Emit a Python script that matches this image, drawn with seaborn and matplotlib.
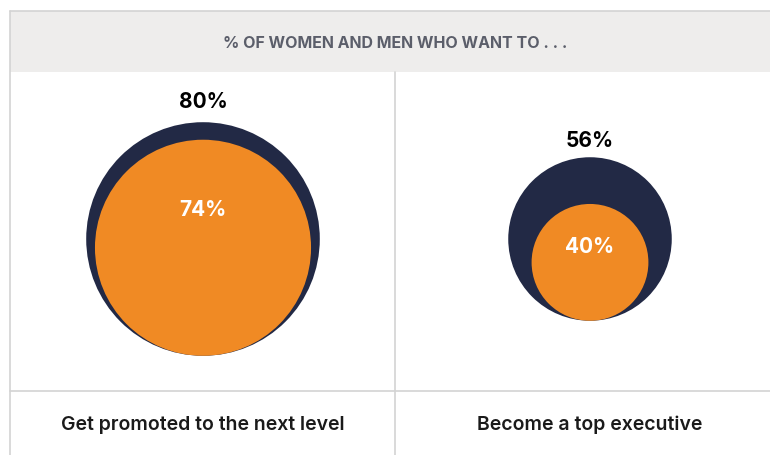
import matplotlib
matplotlib.use("Agg")
import matplotlib.pyplot as plt
from matplotlib.patches import Circle, Rectangle
import seaborn as sns

# data
categories = ["Get promoted to the next level", "Become a top executive"]
men_pct = [80, 56]
women_pct = [74, 40]
header = "% OF WOMEN AND MEN WHO WANT TO . . ."

NAVY = "#222945"
ORANGE = "#F08A24"
BAND = "#EEEDEC"
RULE = "#D3D3D3"

sns.set_theme(style="white")
plt.rcParams["font.family"] = ["Inter", "DejaVu Sans"]

fig = plt.figure(figsize=(7.7, 4.56), dpi=100)
ax = fig.add_axes([0, 0, 1, 1])
ax.set_xlim(0, 770)
ax.set_ylim(456, 0)
ax.axis("off")

# header band and grid lines
ax.add_patch(Rectangle((10, 12), 770, 61, facecolor=BAND, edgecolor="none"))
ax.plot([10, 770], [12, 12], color=RULE, lw=1.2)
ax.plot([10, 10], [12, 456], color=RULE, lw=1.2)
ax.plot([395, 395], [73, 456], color=RULE, lw=1.2)
ax.plot([10, 770], [392, 392], color=RULE, lw=1.2)
ax.text(395, 43, header, ha="center", va="center", fontsize=11.5,
        fontweight="bold", color="#5B5E6A")

# circles: radius proportional to the value, women bottom-aligned inside men
scale = 1.46
centers_x = [203, 590]
cy = 240
for x, m, w, cat in zip(centers_x, men_pct, women_pct, categories):
    rm = m * scale
    rw = w * scale
    ax.add_patch(Circle((x, cy), rm, facecolor=NAVY, edgecolor="none"))
    wy = cy + rm - rw
    ax.add_patch(Circle((x, wy), rw, facecolor=ORANGE, edgecolor="none"))
    ax.text(x, cy - rm - (8 + 0.11 * rm), f"{m}%", ha="center", va="center",
            fontsize=15, fontweight="bold", color="black")
    ax.text(x, wy - (0.46 * rw - 11), f"{w}%", ha="center", va="center",
            fontsize=15, fontweight="bold", color="white")
    ax.text(x, 425, cat, ha="center", va="center", fontsize=14,
            fontweight="semibold", color="#1A1A1A")

fig.savefig("out.png", dpi=100)
